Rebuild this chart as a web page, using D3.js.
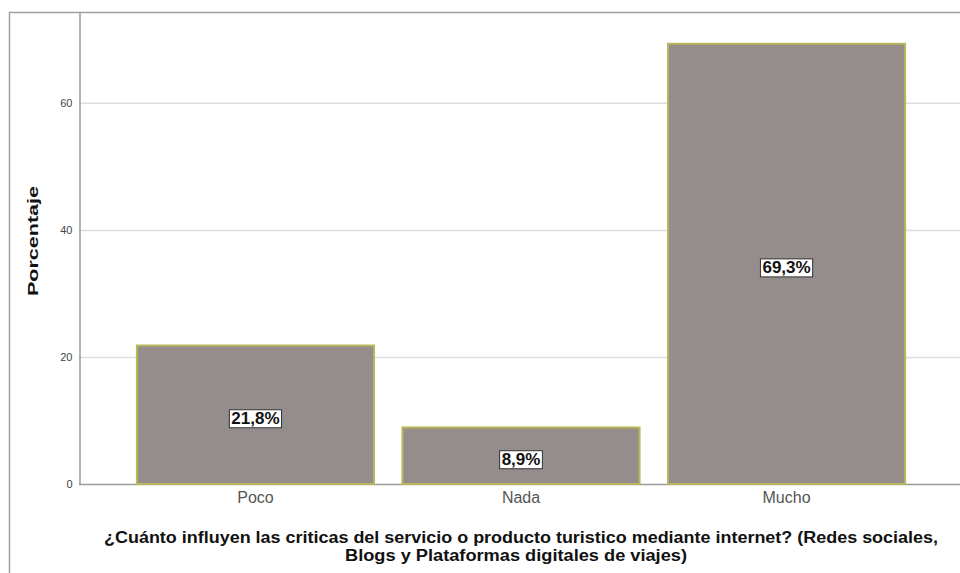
<!DOCTYPE html>
<html>
<head>
<meta charset="utf-8">
<script src="https://cdn.jsdelivr.net/npm/d3@7"></script>
<style>
  html, body { margin: 0; padding: 0; background: #fff; }
  svg { display: block; font-family: "Liberation Sans", Arial, sans-serif; }
</style>
</head>
<body>
<svg id="chart" width="960" height="573"></svg>
<script>
// Categories and percentages
const categories = ["Poco", "Nada", "Mucho"];
const percentages = [21.8, 8.9, 69.3];
const yTicks = [0, 20, 40, 60];
const xTitleLines = [
  "¿Cuánto influyen las criticas del servicio o producto turistico mediante internet? (Redes sociales,",
  "Blogs y Plataformas digitales de viajes)"
];
const yTitle = "Porcentaje";

const svg = d3.select("#chart");
const W = 960, H = 573;
const plot = { left: 79, right: 963, top: 12, bottom: 484 };

const x = d3.scaleBand()
  .domain(categories)
  .range([plot.left, plot.right])
  .paddingInner(0.107)
  .paddingOuter(0.218);

const y = d3.scaleLinear()
  .domain([0, 74.3])
  .range([plot.bottom, plot.top]);

// Outer frame (left and top edges)
svg.append("line").attr("x1", 9.5).attr("x2", 9.5).attr("y1", 12).attr("y2", H)
  .attr("stroke", "#a0a0a0").attr("stroke-width", 1.5);
svg.append("line").attr("x1", 9).attr("x2", W).attr("y1", 12.5).attr("y2", 12.5)
  .attr("stroke", "#a0a0a0").attr("stroke-width", 1.5);

// Gridlines
svg.append("g").selectAll("line")
  .data(yTicks.filter(d => d > 0))
  .join("line")
  .attr("x1", plot.left).attr("x2", W)
  .attr("y1", d => y(d) + 0.5).attr("y2", d => y(d) + 0.5)
  .attr("stroke", "#dedede").attr("stroke-width", 1.5);

// Y axis
const yAxis = svg.append("g")
  .attr("transform", `translate(${plot.left + 0.5},0)`)
  .call(d3.axisLeft(y).tickValues(yTicks).tickSize(0).tickPadding(7).tickFormat(d3.format("d")));
yAxis.select(".domain").attr("stroke", "#9a9a9a").attr("stroke-width", 1.5);
yAxis.selectAll("text").attr("font-size", 11).attr("fill", "#444");

// X axis
const xAxis = svg.append("g")
  .attr("transform", `translate(0,${plot.bottom + 0.5})`)
  .call(d3.axisBottom(x).tickSize(0).tickPadding(7));
xAxis.select(".domain").attr("d", `M${plot.left},0H${W}`).attr("stroke", "#9a9a9a").attr("stroke-width", 1.5);
xAxis.selectAll("text").attr("font-size", 16).attr("fill", "#555");

// Bars
svg.append("g").selectAll("rect")
  .data(categories.map((c, i) => ({ c, v: percentages[i] })))
  .join("rect")
  .attr("x", d => x(d.c))
  .attr("y", d => y(d.v))
  .attr("width", x.bandwidth())
  .attr("height", d => y(0) - y(d.v))
  .attr("fill", "#958c8c")
  .attr("stroke", "#b8b85a")
  .attr("stroke-width", 2);

// Value labels in white boxes at bar middles
const fmt = v => d3.format(".1f")(v).replace(".", ",") + "%";
const labels = svg.append("g").selectAll("g")
  .data(categories.map((c, i) => ({ c, v: percentages[i] })))
  .join("g")
  .attr("transform", d => `translate(${x(d.c) + x.bandwidth() / 2},${(y(d.v) + y(0)) / 2 + 4})`);
labels.each(function(d) {
  const g = d3.select(this);
  const t = g.append("text")
    .attr("text-anchor", "middle")
    .attr("dominant-baseline", "central")
    .attr("font-size", 17)
    .attr("font-weight", "bold")
    .attr("fill", "#111")
    .text(fmt(d.v));
  const bb = t.node().getBBox();
  g.insert("rect", "text")
    .attr("x", bb.x - 2).attr("y", bb.y + 0.5)
    .attr("width", bb.width + 4).attr("height", bb.height - 1)
    .attr("fill", "#fff").attr("stroke", "#333").attr("stroke-width", 1);
});

// Y axis title
svg.append("text")
  .attr("transform", `translate(38,${241}) rotate(-90)`)
  .attr("text-anchor", "middle")
  .attr("font-size", 15).attr("font-weight", "bold").attr("fill", "#111")
  .attr("textLength", 110).attr("lengthAdjust", "spacingAndGlyphs")
  .text(yTitle);

// X axis title (two lines)
const titleCenters = [521, 516];
const titleWidths = [834, 342];
svg.append("g").selectAll("text")
  .data(xTitleLines)
  .join("text")
  .attr("x", (d, i) => titleCenters[i])
  .attr("y", (d, i) => 543 + i * 18)
  .attr("text-anchor", "middle")
  .attr("font-size", 16).attr("font-weight", "bold").attr("fill", "#111")
  .attr("textLength", (d, i) => titleWidths[i]).attr("lengthAdjust", "spacingAndGlyphs")
  .text(d => d);
</script>
</body>
</html>
